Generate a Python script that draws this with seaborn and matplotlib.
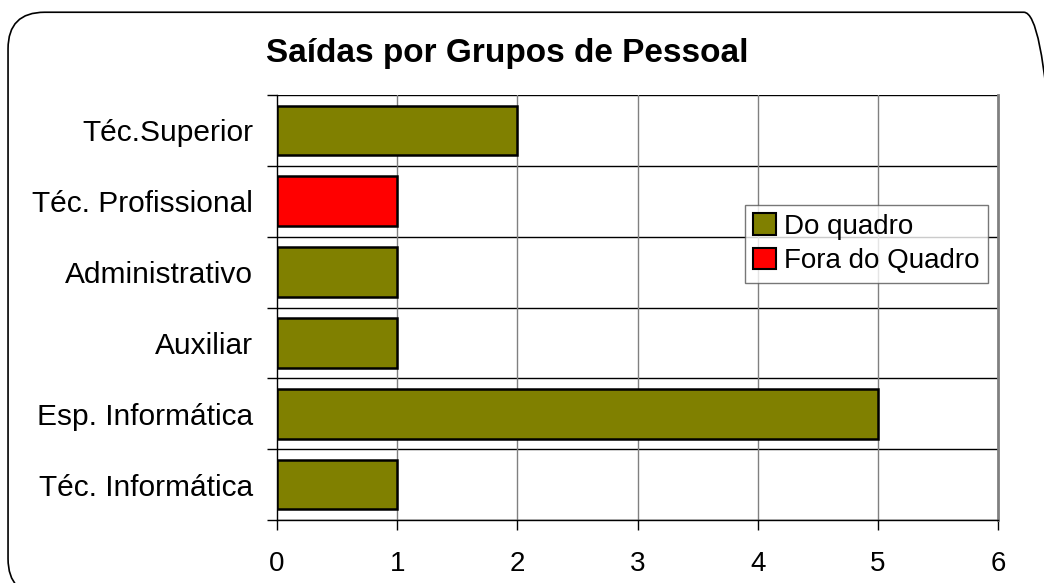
import matplotlib
matplotlib.use("Agg")
import matplotlib.pyplot as plt
import seaborn as sns
import pandas as pd
import numpy as np
from matplotlib.patches import FancyBboxPatch

categories = ["Téc.Superior", "Téc. Profissional", "Administrativo", "Auxiliar",
              "Esp. Informática", "Téc. Informática"]
do_quadro = [2, 0, 1, 1, 5, 1]
fora_do_quadro = [0, 1, 0, 0, 0, 0]
series_names = ["Do quadro", "Fora do Quadro"]
x_ticks = [0, 1, 2, 3, 4, 5, 6]
title = "Saídas por Grupos de Pessoal"

sns.set_theme(style="white")
plt.rcParams["font.family"] = ["Liberation Sans", "DejaVu Sans"]
plt.rcParams["text.color"] = "black"
plt.rcParams["xtick.color"] = "black"
plt.rcParams["ytick.color"] = "black"

rows = []
for c, a, b in zip(categories, do_quadro, fora_do_quadro):
    rows.append((c, a, series_names[0]))
    rows.append((c, b, series_names[1]))
df = pd.DataFrame(rows, columns=["cat", "val", "series"])
df = df[df["val"] > 0]

fig = plt.figure(figsize=(10.44, 5.83), dpi=100)
fig.patch.set_facecolor("white")
border = FancyBboxPatch((0.0077, -0.021), 1.008, 1.0, boxstyle="round,pad=0,rounding_size=0.035",
                        transform=fig.transFigure, facecolor="none", edgecolor="black",
                        linewidth=1.2, mutation_aspect=1044/583)
fig.patches.append(border)

ax = fig.add_axes([0.2653, 0.108, 0.6907, 0.729])
palette = {series_names[0]: "#808000", series_names[1]: "#FF0000"}
sns.barplot(data=df, y="cat", x="val", hue="series", order=categories,
            hue_order=series_names, palette=palette, dodge=False, orient="h",
            width=0.7, edgecolor="black", linewidth=1.8, ax=ax, zorder=3, saturation=1)

ax.set_xlim(0, 6)
ax.set_ylim(len(categories) - 0.5, -0.5)
ax.set_xticks(x_ticks)
ax.set_xticklabels([str(t) for t in x_ticks], fontsize=20)
ax.set_yticks(range(len(categories)))
ax.set_yticklabels(categories, fontsize=21.5)
ax.set_yticks(np.arange(-0.5, len(categories)), minor=True)
ax.tick_params(axis="y", which="major", length=0, pad=17)
ax.tick_params(axis="y", which="minor", length=7, width=1, color="black", left=True, direction="out")
ax.tick_params(axis="x", which="major", length=7, width=1, color="black", bottom=True, direction="out", pad=15)
ax.set_xlabel("")
ax.set_ylabel("")

for y in np.arange(-0.5, len(categories)):
    ax.axhline(y, color="black", linewidth=1, zorder=1)
for x in x_ticks[1:-1]:
    ax.axvline(x, color="#808080", linewidth=1, zorder=1)

for s in ["left", "bottom"]:
    ax.spines[s].set_color("black")
    ax.spines[s].set_linewidth(1)
ax.spines["right"].set_color("#808080")
ax.spines["right"].set_linewidth(2)
ax.spines["top"].set_visible(False)

leg = ax.legend(loc="upper left", bbox_to_anchor=(0.649, 0.741), fontsize=20,
                frameon=True, fancybox=False, edgecolor="#555555",
                handlelength=0.8, handleheight=0.8, handletextpad=0.3,
                borderpad=0.3, labelspacing=0.3, borderaxespad=0)
leg.get_frame().set_linewidth(1)
for h in leg.legend_handles:
    h.set_edgecolor("black")
    h.set_linewidth(1.5)

fig.text(0.486, 0.908, title, ha="center", va="center", fontsize=24, fontweight="bold")

fig.savefig("out.png", dpi=100)
